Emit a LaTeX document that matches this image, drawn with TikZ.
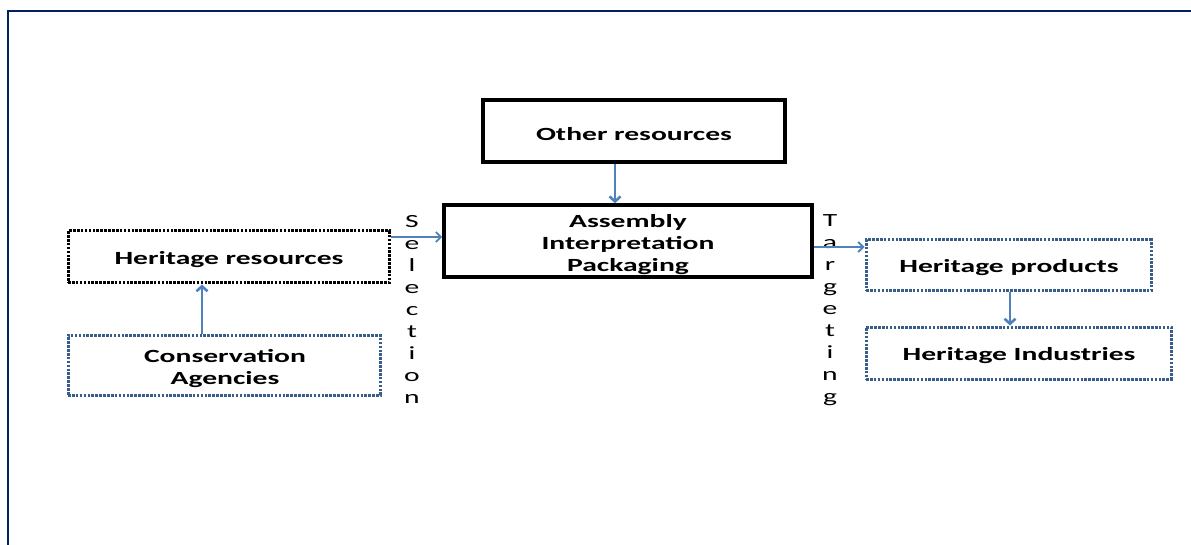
\documentclass[tikz,border=0pt]{standalone}
\usepackage{fontspec}
\newfontfamily\boxfont[FakeStretch=1.59]{Carlito}
\usetikzlibrary{arrows.meta}
\definecolor{framecol}{HTML}{002060}
\definecolor{arrowcol}{HTML}{4F81BD}
\definecolor{dotblue}{HTML}{385D8A}
\tikzset{
  solidbox/.style={draw=black, line width=3.6pt, inner sep=0pt},
  dotblack/.style={draw=black, line width=3pt, dash pattern=on 2.6pt off 1.3pt, inner sep=0pt},
  dotbluebox/.style={draw=dotblue, line width=3pt, dash pattern=on 2.6pt off 1.3pt, inner sep=0pt},
  lbl/.style={font={\boxfont\bfseries\fontsize{18.6}{22}\selectfont}, align=center, inner sep=0pt},
  vlbl/.style={font={\boxfont\fontsize{18.6}{22}\selectfont}, align=center, inner sep=0pt},
  conn/.style={draw=arrowcol, line width=2.6pt, -{Straight Barb[length=5pt,width=11pt]}},
  connthin/.style={draw=arrowcol, line width=1.9pt, -{Straight Barb[length=5pt,width=10pt]}},
}
\begin{document}
\begin{tikzpicture}[x=1pt,y=-1pt]
\useasboundingbox (0,0) rectangle (1191,545);
% frame
\draw[framecol, line width=2.8pt] (8,545) -- (8,11) -- (1191,11);
% boxes
\node[solidbox, minimum width=302pt, minimum height=62pt] (other) at (634,131) {};
\node[lbl] (othert) at (634,134) {Other resources};
\node[solidbox, minimum width=368pt, minimum height=72pt] (assem) at (628,241) {};
\node[lbl] (assemt) at (628,245) {Assembly\\Interpretation\\Packaging};
\node[dotblack, minimum width=321pt, minimum height=52pt] (hres) at (228.5,257) {};
\node[lbl] (hrest) at (229,260) {Heritage resources};
\node[dotbluebox, minimum width=312pt, minimum height=60pt] (cons) at (224,365) {};
\node[lbl] (const) at (225,369) {Conservation\\Agencies};
\node[dotbluebox, minimum width=285pt, minimum height=51pt] (hprod) at (1008.5,265.5) {};
\node[lbl] (hprodt) at (1009,268) {Heritage products};
\node[dotbluebox, minimum width=305pt, minimum height=52pt] (hind) at (1018.5,353) {};
\node[lbl] (hindt) at (1019,356) {Heritage Industries};
% vertical labels
\node[vlbl] (sel) at (412,309) {S\\e\\l\\e\\c\\t\\i\\o\\n};
\node[vlbl] (tar) at (830,310) {T\\a\\r\\g\\e\\t\\i\\n\\g};
% connectors
\coordinate (o1) at (615,162);
\coordinate (o2) at (615,205);
\draw[conn] (other.south -| o1) -- (assem.north -| o2);
\coordinate (s1) at (389,237);
\draw[connthin] (hres.east |- s1) -- (assem.west |- s1);
\coordinate (c1) at (202,335);
\draw[conn] (cons.north -| c1) -- (hres.south -| c1);
\coordinate (t1) at (812,247);
\draw[connthin] (assem.east |- t1) -- (hprod.west |- t1);
\coordinate (p1) at (1010,291);
\draw[conn] (hprod.south -| p1) -- (hind.north -| p1);
\end{tikzpicture}
\end{document}
